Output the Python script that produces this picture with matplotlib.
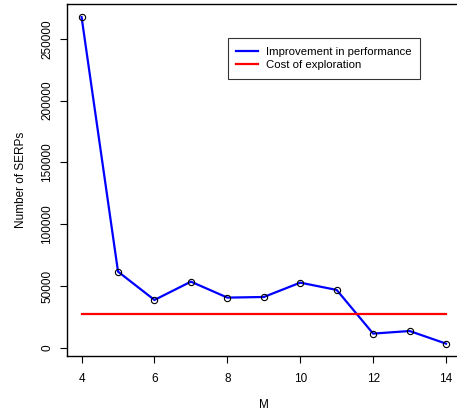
import matplotlib
matplotlib.use('Agg')
from matplotlib import pyplot as plt

plt.rcParams['font.family'] = ['Liberation Sans', 'DejaVu Sans']

# values
m_values = [4, 5, 6, 7, 8, 9, 10, 11, 12, 13, 14]
improvement = [267500, 61700, 38800, 53600, 40700, 41200, 52800, 46900, 11600, 13700, 3500]
cost_of_exploration = 27500
x_ticks = [4, 6, 8, 10, 12, 14]
y_ticks = [0, 50000, 100000, 150000, 200000, 250000]

fig = plt.figure(figsize=(4.57, 4.12), dpi=100)
# the plot box runs slightly past the right edge of the picture, as in the reference
ax = fig.add_axes([67 / 457, 56 / 412, 393.6 / 457, 352 / 412])

ax.plot(m_values, improvement, color='#0000ff', lw=1.6, label='Improvement in performance', zorder=2)
ax.plot(m_values, improvement, ls='none', marker='o', ms=4.5, mfc='none', mec='black', mew=0.8, zorder=3)
ax.plot([m_values[0], m_values[-1]], [cost_of_exploration, cost_of_exploration],
        color='#ff0000', lw=1.6, label='Cost of exploration', zorder=2)

ax.set_xlim(3.6, 14.4)
ax.set_ylim(-6500, 278050)
ax.set_xticks(x_ticks)
ax.set_yticks(y_ticks)
ax.set_yticklabels([str(v) for v in y_ticks], rotation=90, va='center')
ax.tick_params(axis='both', labelsize=8.5, length=5, width=0.8, direction='out')
ax.tick_params(axis='x', pad=7.5)
ax.tick_params(axis='y', pad=5)

for s in ax.spines.values():
    s.set_linewidth(1.0)

ax.set_xlabel('M', fontsize=8.5, labelpad=9.5)
ax.set_ylabel('Number of SERPs', fontsize=8.5, labelpad=10)

leg = ax.legend(loc='upper left', bbox_to_anchor=(227.7 / 457, 1 - 38.3 / 412),
                bbox_transform=fig.transFigure, fontsize=8.2, frameon=True, fancybox=False,
                handlelength=1.9, handletextpad=0.7, borderpad=0.75, labelspacing=0.3,
                borderaxespad=0)
leg.get_frame().set_edgecolor('black')
leg.get_frame().set_linewidth(0.8)

plt.savefig('out.png', dpi=100)
plt.close()
